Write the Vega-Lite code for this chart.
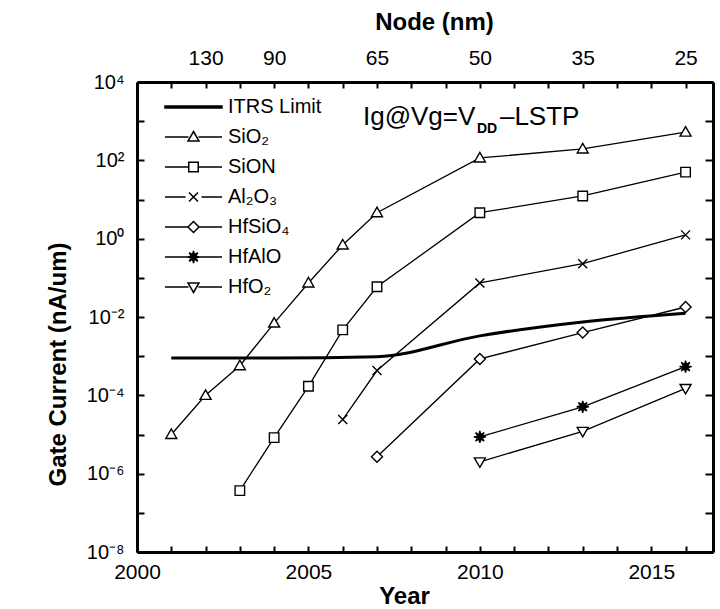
{
  "$schema": "https://vega.github.io/schema/vega-lite/v6.json",
  "width": 576,
  "height": 470,
  "autosize": "none",
  "padding": {"left": 137, "top": 82, "right": 7, "bottom": 57},
  "background": "white",
  "config": {
    "view": {"stroke": null},
    "font": "Liberation Sans",
    "axis": {"grid": false, "domainColor": "black", "tickColor": "black", "labelColor": "black", "titleColor": "black", "labelFont": "Liberation Sans", "titleFont": "Liberation Sans"},
    "legend": {"labelFont": "Liberation Sans"}
  },
  "datasets": {
    "all": [
      {"series": "ITRS Limit", "year": 2001, "value": 0.0009},
      {"series": "ITRS Limit", "year": 2004, "value": 0.0009},
      {"series": "ITRS Limit", "year": 2007, "value": 0.00097},
      {"series": "ITRS Limit", "year": 2010, "value": 0.0033},
      {"series": "ITRS Limit", "year": 2013, "value": 0.0075},
      {"series": "ITRS Limit", "year": 2016, "value": 0.0125},
      {"series": "SiO₂", "year": 2001, "value": 0.00001},
      {"series": "SiO₂", "year": 2002, "value": 0.0001},
      {"series": "SiO₂", "year": 2003, "value": 0.00057},
      {"series": "SiO₂", "year": 2004, "value": 0.007},
      {"series": "SiO₂", "year": 2005, "value": 0.074},
      {"series": "SiO₂", "year": 2006, "value": 0.69},
      {"series": "SiO₂", "year": 2007, "value": 4.6},
      {"series": "SiO₂", "year": 2010, "value": 115},
      {"series": "SiO₂", "year": 2013, "value": 195},
      {"series": "SiO₂", "year": 2016, "value": 525},
      {"series": "SiON", "year": 2003, "value": 0.00000037},
      {"series": "SiON", "year": 2004, "value": 0.0000083},
      {"series": "SiON", "year": 2005, "value": 0.00017},
      {"series": "SiON", "year": 2006, "value": 0.0047},
      {"series": "SiON", "year": 2007, "value": 0.059},
      {"series": "SiON", "year": 2010, "value": 4.6},
      {"series": "SiON", "year": 2013, "value": 12.3},
      {"series": "SiON", "year": 2016, "value": 50},
      {"series": "Al₂O₃", "year": 2006, "value": 0.000024},
      {"series": "Al₂O₃", "year": 2007, "value": 0.00043},
      {"series": "Al₂O₃", "year": 2010, "value": 0.074},
      {"series": "Al₂O₃", "year": 2013, "value": 0.23},
      {"series": "Al₂O₃", "year": 2016, "value": 1.25},
      {"series": "HfSiO₄", "year": 2007, "value": 0.0000027},
      {"series": "HfSiO₄", "year": 2010, "value": 0.00085},
      {"series": "HfSiO₄", "year": 2013, "value": 0.004},
      {"series": "HfSiO₄", "year": 2016, "value": 0.018},
      {"series": "HfAlO", "year": 2010, "value": 0.0000087},
      {"series": "HfAlO", "year": 2013, "value": 0.000051},
      {"series": "HfAlO", "year": 2016, "value": 0.00054},
      {"series": "HfO₂", "year": 2010, "value": 0.000002},
      {"series": "HfO₂", "year": 2013, "value": 0.000012},
      {"series": "HfO₂", "year": 2016, "value": 0.00015}
    ]
  },
  "resolve": {
    "axis": {"x": "independent", "y": "independent"},
    "scale": {"shape": "independent", "fill": "independent"},
    "legend": {"shape": "independent", "fill": "independent"}
  },
  "layer": [
    {
      "data": {"name": "all"},
      "transform": [{"filter": "datum.series === 'ITRS Limit'"}],
      "mark": {"type": "line", "color": "black", "strokeWidth": 3, "interpolate": "monotone"},
      "encoding": {
        "x": {
          "field": "year", "type": "quantitative",
          "scale": {"domain": [2000, 2016.8], "nice": false, "zero": false},
          "axis": {
            "orient": "bottom",
            "values": [2000, 2001, 2002, 2003, 2004, 2005, 2006, 2007, 2008, 2009, 2010, 2011, 2012, 2013, 2014, 2015, 2016],
            "labelExpr": "datum.value % 5 == 0 ? format(datum.value, 'd') : ''",
            "labelFlush": false, "labelOverlap": false,
            "labelFontSize": 21, "labelPadding": 15,
            "tickSize": -6, "tickWidth": 2, "domainWidth": 3,
            "title": "Year", "titleFontSize": 24, "titleFontWeight": "bold",
            "titleX": 267, "titleY": 51, "titleAlign": "center", "titleBaseline": "alphabetic"
          }
        },
        "y": {
          "field": "value", "type": "quantitative",
          "scale": {"type": "log", "domain": [1e-8, 10000], "nice": false},
          "axis": {
            "orient": "left",
            "values": [1e-8, 1e-7, 1e-6, 1e-5, 1e-4, 0.001, 0.01, 0.1, 1, 10, 100, 1000, 10000],
            "labelExpr": "datum.value == 10000 ? '10⁴' : datum.value == 100 ? '10²' : datum.value == 1 ? '10⁰' : datum.value == 0.01 ? '10⁻²' : datum.value == 0.0001 ? '10⁻⁴' : datum.value == 1e-6 ? '10⁻⁶' : datum.value == 1e-8 ? '10⁻⁸' : ''",
            "labelOverlap": false, "labelFlush": false,
            "labelFontSize": 20, "labelPadding": 20,
            "tickSize": -7, "tickWidth": 2, "domainWidth": 3,
            "title": "Gate Current (nA/um)", "titleFontSize": 24, "titleFontWeight": "bold",
            "titleAngle": -90, "titleX": -79, "titleY": 282, "titleAlign": "center", "titleBaseline": "middle"
          }
        }
      }
    },
    {
      "data": {"name": "all"},
      "transform": [{"filter": "datum.series !== 'ITRS Limit'"}],
      "mark": {"type": "line", "color": "black", "strokeWidth": 1.3},
      "encoding": {
        "x": {
          "field": "year", "type": "quantitative",
          "axis": {
            "orient": "top",
            "values": [2000, 2001, 2002, 2003, 2004, 2005, 2006, 2007, 2008, 2009, 2010, 2011, 2012, 2013, 2014, 2015, 2016],
            "labelExpr": "datum.value == 2002 ? '130' : datum.value == 2004 ? '90' : datum.value == 2007 ? '65' : datum.value == 2010 ? '50' : datum.value == 2013 ? '35' : datum.value == 2016 ? '25' : ''",
            "labelFlush": false, "labelOverlap": false,
            "labelFontSize": 21, "labelPadding": 20,
            "tickSize": -6, "tickWidth": 2, "domainWidth": 3,
            "title": "Node (nm)", "titleFontSize": 24, "titleFontWeight": "bold",
            "titleX": 297, "titleY": -60, "titleAlign": "center", "titleBaseline": "middle"
          }
        },
        "y": {
          "field": "value", "type": "quantitative",
          "axis": {
            "orient": "right",
            "values": [1e-8, 1e-7, 1e-6, 1e-5, 1e-4, 0.001, 0.01, 0.1, 1, 10, 100, 1000, 10000],
            "labels": false, "title": null,
            "tickSize": -8, "tickWidth": 2, "domainWidth": 3
          }
        },
        "detail": {"field": "series"}
      }
    },
    {
      "data": {"name": "all"},
      "transform": [{"filter": "datum.series !== 'ITRS Limit'"}],
      "mark": {"type": "point", "filled": true, "stroke": "black", "strokeWidth": 1.4, "size": 100, "opacity": 1},
      "encoding": {
        "x": {"field": "year", "type": "quantitative", "axis": null},
        "y": {"field": "value", "type": "quantitative", "axis": null},
        "shape": {
          "field": "series", "type": "nominal", "legend": null,
          "scale": {
            "domain": ["SiO₂", "SiON", "Al₂O₃", "HfSiO₄", "HfAlO", "HfO₂"],
            "range": [
              "M0,-1.1L1.1,0.8L-1.1,0.8Z",
              "M-0.95,-0.95H0.95V0.95H-0.95Z",
              "M-0.9,-0.9L0.9,0.9M-0.9,0.9L0.9,-0.9",
              "M0,-1.1L1.1,0L0,1.1L-1.1,0Z",
              "M1.2,0L0.416,0.172L0.849,0.849L0.172,0.416L0,1.2L-0.172,0.416L-0.849,0.849L-0.416,0.172L-1.2,0L-0.416,-0.172L-0.849,-0.849L-0.172,-0.416L0,-1.2L0.172,-0.416L0.849,-0.849L0.416,-0.172Z",
              "M0,1.1L1.1,-0.8L-1.1,-0.8Z"
            ]
          }
        },
        "fill": {
          "field": "series", "type": "nominal", "legend": null,
          "scale": {
            "domain": ["SiO₂", "SiON", "Al₂O₃", "HfSiO₄", "HfAlO", "HfO₂"],
            "range": ["white", "white", "white", "white", "black", "white"]
          }
        }
      }
    },
    {
      "data": {"name": "all"},
      "mark": {"type": "point", "filled": true, "stroke": "black", "strokeWidth": 1.4, "size": 100, "opacity": 0},
      "encoding": {
        "x": {"field": "year", "type": "quantitative", "axis": null},
        "y": {"field": "value", "type": "quantitative", "axis": null},
        "shape": {
          "field": "series", "type": "nominal",
          "scale": {
            "domain": ["ITRS Limit", "SiO₂", "SiON", "Al₂O₃", "HfSiO₄", "HfAlO", "HfO₂"],
            "range": [
              "M-5.7,-0.2H5.7V0.2H-5.7Z",
              "M-5.7,0H-1M1,0H5.7M0,-1.1L1.1,0.8L-1.1,0.8Z",
              "M-5.7,0H-1M1,0H5.7M-0.95,-0.95H0.95V0.95H-0.95Z",
              "M-5.7,0H-1.6M1.6,0H5.7M-0.9,-0.9L0.9,0.9M-0.9,0.9L0.9,-0.9",
              "M-5.7,0H-1.1M1.1,0H5.7M0,-1.1L1.1,0L0,1.1L-1.1,0Z",
              "M-5.7,0H-1.2M1.2,0H5.7M1.2,0L0.416,0.172L0.849,0.849L0.172,0.416L0,1.2L-0.172,0.416L-0.849,0.849L-0.416,0.172L-1.2,0L-0.416,-0.172L-0.849,-0.849L-0.172,-0.416L0,-1.2L0.172,-0.416L0.849,-0.849L0.416,-0.172Z",
              "M-5.7,0H-1M1,0H5.7M0,1.1L1.1,-0.8L-1.1,-0.8Z"
            ]
          },
          "legend": {
            "title": null, "orient": "none", "legendX": 46.5, "legendY": 15,
            "padding": 0, "symbolOffset": 0, "labelOffset": 24.5,
            "symbolSize": 100, "symbolStrokeWidth": 1.5, "symbolStrokeColor": "black", "symbolOpacity": 1,
            "labelFontSize": 20, "labelColor": "black", "labelBaseline": "middle", "rowPadding": 10, "labelLimit": 300,
            "encode": {"symbols": {"update": {"stroke": {"value": "black"}, "strokeWidth": {"value": 1.5}, "opacity": {"value": 1}, "strokeOpacity": {"value": 1}, "fillOpacity": {"value": 1}}}}
          }
        },
        "fill": {
          "field": "series", "type": "nominal",
          "scale": {
            "domain": ["ITRS Limit", "SiO₂", "SiON", "Al₂O₃", "HfSiO₄", "HfAlO", "HfO₂"],
            "range": ["black", "white", "white", "white", "white", "black", "white"]
          },
          "legend": {
            "title": null, "orient": "none", "legendX": 46.5, "legendY": 15,
            "padding": 0, "symbolOffset": 0, "labelOffset": 24.5,
            "symbolSize": 100, "symbolStrokeWidth": 1.5, "symbolStrokeColor": "black", "symbolOpacity": 1,
            "labelFontSize": 20, "labelColor": "black", "labelBaseline": "middle", "rowPadding": 10, "labelLimit": 300,
            "encode": {"symbols": {"update": {"stroke": {"value": "black"}, "strokeWidth": {"value": 1.5}, "opacity": {"value": 1}, "strokeOpacity": {"value": 1}, "fillOpacity": {"value": 1}}}}
          }
        }
      }
    },
    {
      "data": {"values": [{"label": "Ig@Vg=V"}]},
      "mark": {"type": "text", "align": "left", "baseline": "alphabetic", "fontSize": 26, "color": "black", "font": "Liberation Sans"},
      "encoding": {
        "x": {"datum": 2006.59, "type": "quantitative", "axis": null},
        "y": {"datum": 800, "type": "quantitative", "axis": null},
        "text": {"field": "label"}
      }
    },
    {
      "data": {"values": [{"label": "DD"}]},
      "mark": {"type": "text", "align": "left", "baseline": "alphabetic", "fontSize": 14, "fontWeight": "bold", "dx": 114, "dy": 8, "color": "black", "font": "Liberation Sans"},
      "encoding": {
        "x": {"datum": 2006.59, "type": "quantitative", "axis": null},
        "y": {"datum": 800, "type": "quantitative", "axis": null},
        "text": {"field": "label"}
      }
    },
    {
      "data": {"values": [{"label": "–LSTP"}]},
      "mark": {"type": "text", "align": "left", "baseline": "alphabetic", "fontSize": 26, "dx": 137, "color": "black", "font": "Liberation Sans"},
      "encoding": {
        "x": {"datum": 2006.59, "type": "quantitative", "axis": null},
        "y": {"datum": 800, "type": "quantitative", "axis": null},
        "text": {"field": "label"}
      }
    }
  ]
}
